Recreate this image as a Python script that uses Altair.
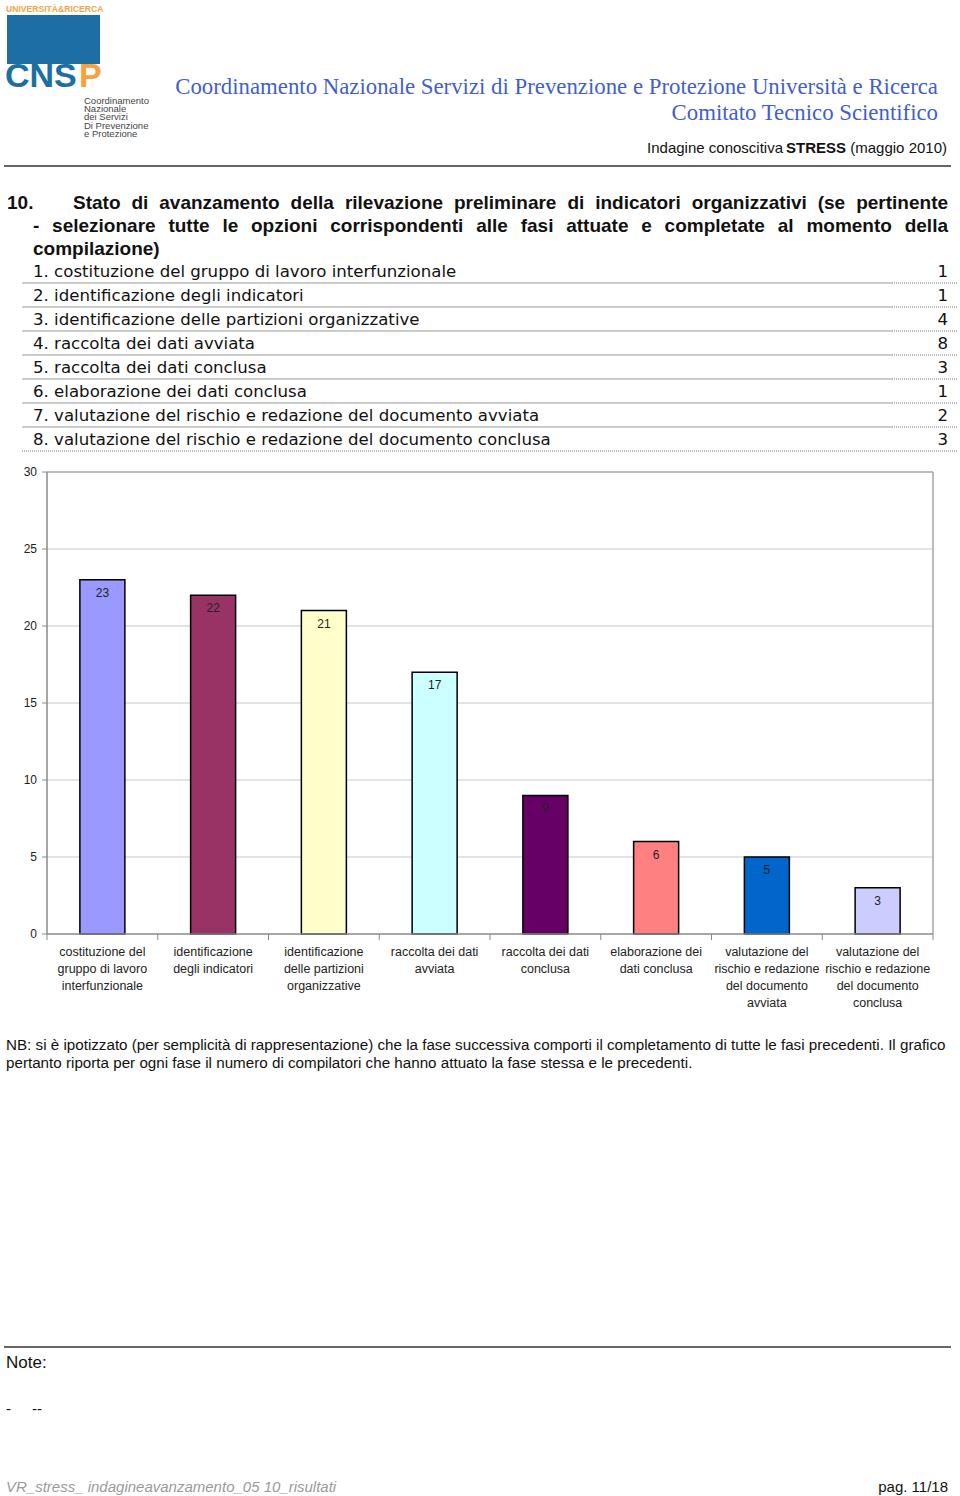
import altair as alt
import pandas as pd

# ---------------- data ----------------
categories = [
    "costituzione del\ngruppo di lavoro\ninterfunzionale",
    "identificazione\ndegli indicatori",
    "identificazione\ndelle partizioni\norganizzative",
    "raccolta dei dati\navviata",
    "raccolta dei dati\nconclusa",
    "elaborazione dei\ndati conclusa",
    "valutazione del\nrischio e redazione\ndel documento\navviata",
    "valutazione del\nrischio e redazione\ndel documento\nconclusa",
]
values = [23, 22, 21, 17, 9, 6, 5, 3]
bar_colors = ["#9999FF", "#993366", "#FFFFCC", "#CCFFFF", "#660066", "#FF8080", "#0066CC", "#CCCCFF"]
y_ticks = [0, 5, 10, 15, 20, 25, 30]
grid_ticks = [5, 10, 15, 20, 25]

row_labels = [
    "1. costituzione del gruppo di lavoro interfunzionale",
    "2. identificazione degli indicatori",
    "3. identificazione delle partizioni organizzative",
    "4. raccolta dei dati avviata",
    "5. raccolta dei dati conclusa",
    "6. elaborazione dei dati conclusa",
    "7. valutazione del rischio e redazione del documento avviata",
    "8. valutazione del rischio e redazione del documento conclusa",
]
row_counts = [1, 1, 4, 8, 3, 1, 2, 3]

q_line1 = "Stato di avanzamento della rilevazione preliminare di indicatori organizzativi (se pertinente"
q_line2 = "- selezionare tutte le opzioni corrispondenti alle fasi attuate e completate al momento della"

df = pd.DataFrame({"cat": categories, "val": values})
FONT = "Liberation Sans"

# approximate advance widths of Liberation Sans Bold (per 1000 em), used only to justify lines
BOLD_W = dict(a=556, b=611, c=556, d=611, e=556, f=333, g=611, h=611, i=278, j=278, k=556, l=278,
              m=889, n=611, o=611, p=611, q=611, r=389, s=556, t=333, u=611, v=556, w=778, x=556,
              y=556, z=500, S=667)
BOLD_W.update({"-": 333, "(": 333, ")": 333, ".": 278})


def word_w(w, size):
    return sum(BOLD_W.get(ch, 600) for ch in w) * size / 1000.0


# ---------------- helpers ----------------
def txt(s, x, y, **kw):
    kw.setdefault("font", FONT)
    kw.setdefault("baseline", "middle")
    kw.setdefault("align", "left")
    return alt.Chart(alt.Data(values=[{"t": s}])).mark_text(**kw).encode(
        x=alt.value(x), y=alt.value(y), text="t:N")


def justified(line, x0, x1, y, size, **kw):
    words = line.split(" ")
    widths = [word_w(w, size) for w in words]
    gap = (x1 - x0 - sum(widths)) / (len(words) - 1)
    out, x = [], x0
    for w, wd in zip(words, widths):
        out.append(txt(w, round(x, 1), y, fontSize=size, **kw))
        x += wd + gap
    return out


def hline(x1, x2, y, color="#888888", width=1.0, dash=None):
    kw = dict(color=color, strokeWidth=width)
    if dash:
        kw["strokeDash"] = dash
    return alt.Chart(alt.Data(values=[{}])).mark_rule(**kw).encode(
        x=alt.value(x1), x2=alt.value(x2), y=alt.value(y))


def vline(x, y1, y2, color="#888888", width=1.0):
    return alt.Chart(alt.Data(values=[{}])).mark_rule(color=color, strokeWidth=width).encode(
        x=alt.value(x), y=alt.value(y1), y2=alt.value(y2))


layers = []

# ---------------- header / logo ----------------
layers.append(txt("UNIVERSITÀ&RICERCA", 6, 9, fontSize=8.6, fontWeight="bold", color="#F0A545"))
layers.append(alt.Chart(alt.Data(values=[{}])).mark_rect(color="#1D6EA3").encode(
    x=alt.value(7), x2=alt.value(100), y=alt.value(15), y2=alt.value(64)))
layers.append(txt("CNS", 5, 87, fontSize=34, fontWeight="bold", color="#1D6EA3", baseline="alphabetic"))
layers.append(txt("P", 79, 87, fontSize=34, fontWeight="bold", color="#F4A340", baseline="alphabetic"))
layers.append(txt("Coordinamento\nNazionale\ndei Servizi\nDi Prevenzione\ne Protezione", 84, 96,
                  fontSize=9.5, color="#444444", baseline="top", lineBreak="\n", lineHeight=8.2))

layers.append(txt("Coordinamento Nazionale Servizi di Prevenzione e Protezione Università e Ricerca",
                  938, 87, fontSize=22.8, font="Liberation Serif", color="#3F5FCF", align="right"))
layers.append(txt("Comitato Tecnico Scientifico", 938, 113, fontSize=22.8, font="Liberation Serif",
                  color="#3F5FCF", align="right"))
layers.append(txt("(maggio 2010)", 947, 148, fontSize=15, color="#111111", align="right"))
layers.append(txt("STRESS", 846, 148, fontSize=15, fontWeight="bold", color="#111111", align="right"))
layers.append(txt("Indagine conoscitiva", 783, 148, fontSize=15, color="#111111", align="right"))
layers.append(hline(4, 951, 166, color="#333333", width=1.5))

# ---------------- question ----------------
QB = dict(fontWeight="bold", color="#111111")
layers.append(txt("10.", 7, 203, fontSize=19, **QB))
layers += justified(q_line1, 73, 948, 203, 19, **QB)
layers += justified(q_line2, 33, 948, 226, 19, **QB)
layers.append(txt("compilazione)", 33, 249, fontSize=19, **QB))

for i, (lab, cnt) in enumerate(zip(row_labels, row_counts)):
    yc = 272 + 24 * i
    layers.append(txt(lab, 33, yc, fontSize=16.6, color="#111111", font="DejaVu Sans"))
    layers.append(txt(str(cnt), 948, yc, fontSize=16.6, color="#111111", align="right", font="DejaVu Sans"))
    yl = yc + 11
    if i < len(row_labels) - 1:
        layers.append(hline(22, 892, yl, color="#9a9a9a", width=1.2))
        layers.append(hline(892, 957, yl, color="#777777", width=1, dash=[1, 1]))
    else:
        layers.append(hline(22, 957, yl, color="#777777", width=1, dash=[1, 1]))

# ---------------- bar chart ----------------
xs = alt.Scale(domain=categories, range=[47, 933], paddingInner=0, paddingOuter=0)
ys = alt.Scale(domain=[0, 30], range=[934, 472], nice=False, zero=True)

grid = alt.Chart(pd.DataFrame({"val": grid_ticks})).mark_rule(color="#c8c8c8", strokeWidth=1.2).encode(
    y=alt.Y("val:Q", scale=ys, axis=None), x=alt.value(47), x2=alt.value(933))
top = alt.Chart(pd.DataFrame({"val": [30]})).mark_rule(color="#a6a6a6", strokeWidth=1.5).encode(
    y=alt.Y("val:Q", scale=ys, axis=None), x=alt.value(47), x2=alt.value(933))
frame = alt.Chart(pd.DataFrame({"val": [0], "val2": [30]}))
right = frame.mark_rule(color="#a6a6a6", strokeWidth=1.5).encode(
    y=alt.Y("val:Q", scale=ys, axis=None), y2="val2:Q", x=alt.value(933))
yaxis_line = frame.mark_rule(color="#8a8a8a", strokeWidth=1.5).encode(
    y=alt.Y("val:Q", scale=ys, axis=None), y2="val2:Q", x=alt.value(47))
xaxis_line = frame.mark_rule(color="#8a8a8a", strokeWidth=1.5).encode(
    y=alt.Y("val:Q", scale=ys, axis=None), x=alt.value(47), x2=alt.value(933))
tick_df = pd.DataFrame({"val": y_ticks})
y_tick_marks = alt.Chart(tick_df).mark_rule(color="#8a8a8a", strokeWidth=1).encode(
    y=alt.Y("val:Q", scale=ys, axis=None), x=alt.value(42), x2=alt.value(47))
y_tick_labels = alt.Chart(tick_df).mark_text(align="right", baseline="middle", font=FONT, fontSize=12,
                                             color="#222222").encode(
    y=alt.Y("val:Q", scale=ys, axis=None), x=alt.value(37), text="val:Q")
layers += [grid, top, right]

bars = alt.Chart(df).mark_bar(size=45, stroke="black", strokeWidth=1.5).encode(
    x=alt.X("cat:N", sort=categories, scale=xs, axis=None),
    y=alt.Y("val:Q", scale=ys, axis=None),
    color=alt.Color("cat:N", scale=alt.Scale(domain=categories, range=bar_colors), legend=None),
)
x_tick_marks = alt.Chart(df).mark_rule(color="#8a8a8a", strokeWidth=1).encode(
    x=alt.X("cat:N", sort=categories, scale=xs, axis=None, bandPosition=0),
    y=alt.value(934), y2=alt.value(940))
layers += [bars, yaxis_line, xaxis_line, y_tick_marks, y_tick_labels, x_tick_marks]
layers.append(vline(933, 934, 940, color="#8a8a8a"))

vals_txt = alt.Chart(df).mark_text(dy=13, baseline="middle", font=FONT, fontSize=12, color="#222222").encode(
    x=alt.X("cat:N", sort=categories, scale=xs, axis=None),
    y=alt.Y("val:Q", scale=ys, axis=None),
    text="val:Q")
layers.append(vals_txt)

cat_txt = alt.Chart(df).mark_text(baseline="top", font=FONT, fontSize=12.5, color="#222222",
                                  lineBreak="\n", lineHeight=17).encode(
    x=alt.X("cat:N", sort=categories, scale=xs, axis=None),
    y=alt.value(946),
    text="cat:N")
layers.append(cat_txt)

# ---------------- notes / footer ----------------
NB = dict(fontSize=15.2, color="#111111")
layers.append(txt("NB: si è ipotizzato (per semplicità di rappresentazione) che la fase successiva comporti il "
                  "completamento di tutte le fasi precedenti. Il grafico", 6, 1045, **NB))
layers.append(txt("pertanto riporta per ogni fase il numero di compilatori che hanno attuato la fase stessa e le "
                  "precedenti.", 6, 1063, **NB))

layers.append(hline(4, 951, 1347, color="#333333", width=1.5))
layers.append(txt("Note:", 6, 1363, fontSize=17, color="#111111"))
layers.append(txt("-", 6, 1409, fontSize=15, color="#111111"))
layers.append(txt("--", 32, 1409, fontSize=15, color="#111111"))
layers.append(txt("VR_stress_ indagineavanzamento_05 10_risultati", 6, 1487, fontSize=15,
                  fontStyle="italic", color="#9a9a9a"))
layers.append(txt("pag. 11/18", 948, 1487, fontSize=15, color="#111111", align="right"))

chart = alt.layer(*layers).properties(
    width=960, height=1496, autosize=alt.AutoSizeParams(type="none"), padding=0,
    background="white",
).configure_view(stroke="transparent")

chart.save("out.html", embed_options={"renderer": "svg", "actions": False})
